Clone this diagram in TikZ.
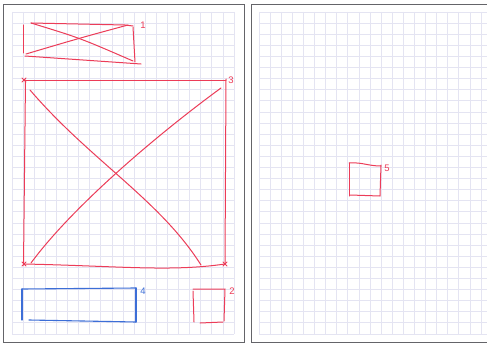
\documentclass[tikz,border=0pt]{standalone}
\usepackage{fontspec}
\setmainfont{Liberation Sans}
\definecolor{gridc}{RGB}{228,228,242}
\definecolor{inkred}{RGB}{236,60,88}
\definecolor{inkblue}{RGB}{60,110,215}
\definecolor{framec}{RGB}{100,100,105}
\tikzset{
  gridline/.style={draw=gridc, line width=0.75pt},
  redink/.style={draw=inkred, line width=1pt, line cap=round},
  blueink/.style={draw=inkblue, line width=1.1pt, line cap=round},
  pageframe/.style={draw=framec, line width=1pt},
  lbl/.style={text=inkred, font=\fontsize{9.5}{9.5}\selectfont, inner sep=0pt},
}
\begin{document}
\begin{tikzpicture}[x=1pt,y=-1pt]
\useasboundingbox (0,0) rectangle (487,345);
\fill[white] (0,0) rectangle (487,345);
% grids
\foreach \i in {0,...,20} { \draw[gridline] ({12+11.1*\i},12) -- ({12+11.1*\i},334); }
\foreach \j in {0,...,29} { \draw[gridline] (12,{12+11.1*\j}) -- (234,{12+11.1*\j}); }
\foreach \i in {0,...,20} { \draw[gridline] ({259+11.1*\i},12) -- ({259+11.1*\i},335); }
\foreach \j in {0,...,29} { \draw[gridline] (259,{12+11.1*\j}) -- (487,{12+11.1*\j}); }
% page frames
\draw[pageframe] (3.5,5) rectangle (244,342);
\draw[pageframe] (251,5) -- (489,5);
\draw[pageframe] (251,5) -- (251,342.5) -- (489,342.5);
% box 1
\draw[redink] (23,25) -- (23,53);
\draw[redink] (31,23) -- (125,25) -- (133,26);
\draw[redink] (133,27) -- (135,62);
\draw[redink] (25,56) -- (141,64);
\draw[redink] (31,23) .. controls (80,38) .. (133,61);
\draw[redink] (26,54) .. controls (80,38) .. (128,25);
\node[lbl] (l1) at (143,25) {1};
% box 3
\draw[redink] (24,80) -- (226,80);
\draw[redink] (22,78) -- (26,82) (22,82) -- (26,78);
\draw[redink] (25.5,80) -- (23.5,265);
\draw[redink] (226,79) -- (225,264);
\draw[redink] (24,264) .. controls (120,266) and (170,272) .. (225,264);
\draw[redink] (22,262) -- (26,266) (22,266) -- (26,262);
\draw[redink] (223,262) -- (227,266) (223,266) -- (227,262);
\draw[redink] (30,90) .. controls (90,160) and (160,200) .. (201,265);
\draw[redink] (221,88) .. controls (150,140) and (70,210) .. (31,263);
\node[lbl] (l3) at (231,80) {3};
% box 4
\draw[blueink] (22,289) -- (22,320);
\draw[blueink] (22,289) -- (136,288);
\draw[blueink] (136,288) -- (136,322);
\draw[blueink] (29,320) -- (136,322);
\node[lbl, text=inkblue] (l4) at (143,291) {4};
% box 2
\draw[redink] (193,291) -- (194,322);
\draw[redink] (193,289) -- (225,289) -- (224,321);
\draw[redink] (200,323) -- (223,322);
\node[lbl] (l2) at (232,291) {2};
% box 5
\draw[redink] (349,163) -- (349,196);
\draw[redink] (349,163) .. controls (362,162) and (368,166) .. (381,166);
\draw[redink] (381,165) -- (380,196) -- (350,195);
\node[lbl] (l5) at (387,168) {5};
\end{tikzpicture}
\end{document}
